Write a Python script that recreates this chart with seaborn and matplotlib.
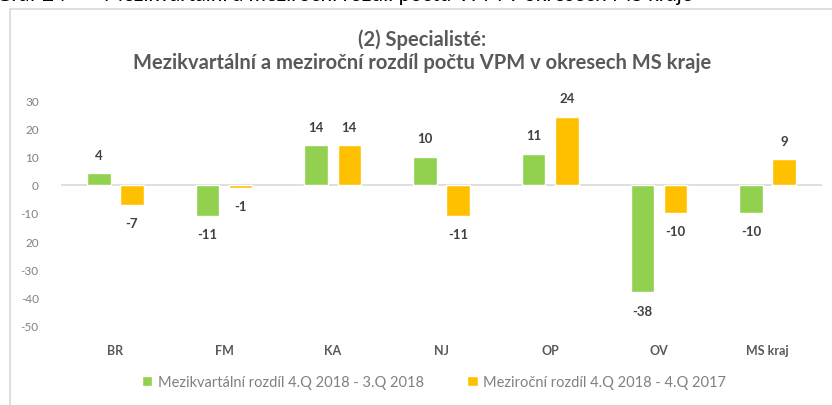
import matplotlib
matplotlib.use("Agg")
import matplotlib.pyplot as plt
import seaborn as sns
import pandas as pd
from matplotlib.patches import Rectangle

categories = ["BR", "FM", "KA", "NJ", "OP", "OV", "MS kraj"]
series_names = ["Mezikvartální rozdíl 4.Q 2018 - 3.Q 2018",
                "Meziroční rozdíl 4.Q 2018 - 4.Q 2017"]
qoq = [4, -11, 14, 10, 11, -38, -10]
yoy = [-7, -1, 14, -11, 24, -10, 9]
yticks = [30, 20, 10, 0, -10, -20, -30, -40, -50]
ytick_labels = ["30", "20", "10", "0", "-10", "20", "-30", "-40", "-50"]
colors = ["#92D050", "#FFC000"]

sns.set_theme(style="white")
plt.rcParams["font.family"] = ["Lato", "DejaVu Sans"]

df = pd.DataFrame({
    "okres": categories * 2,
    "hodnota": qoq + yoy,
    "serie": [series_names[0]] * len(categories) + [series_names[1]] * len(categories),
})

fig = plt.figure(figsize=(8.32, 4.06), dpi=100)
ax = fig.add_axes([61 / 832, 1 - 327 / 406, 761 / 832, 226 / 406])

sns.barplot(data=df, x="okres", y="hodnota", hue="serie", order=categories,
            hue_order=series_names, palette=colors, width=0.61, gap=0.29,
            saturation=1, ax=ax, legend=True)

ax.set_ylim(-50, 30)
ax.set_xlim(-0.5, len(categories) - 0.5)
ax.set_yticks(yticks)
ax.set_yticklabels(ytick_labels, color="#808080", fontsize=8.5)
ax.tick_params(axis="y", length=0, pad=16)
ax.tick_params(axis="x", length=0, pad=13)
for lbl in ax.get_xticklabels():
    lbl.set_fontweight("bold")
    lbl.set_color("#595959")
    lbl.set_fontsize(9)
ax.set_xlabel("")
ax.set_ylabel("")
for s in ax.spines.values():
    s.set_visible(False)
ax.axhline(0, color="#D9D9D9", lw=1.2, zorder=0)

for cont in ax.containers:
    for bar in cont:
        h = bar.get_height()
        xc = bar.get_x() + bar.get_width() / 2
        if h >= 0:
            ax.annotate(f"{int(round(h))}", (xc, h), xytext=(0, 9),
                        textcoords="offset points", ha="center", va="bottom",
                        fontsize=9.5, fontweight="bold", color="#404040")
        else:
            ax.annotate(f"{int(round(h))}", (xc, h), xytext=(0, -9),
                        textcoords="offset points", ha="center", va="top",
                        fontsize=9.5, fontweight="bold", color="#404040")

handles, labels = ax.get_legend_handles_labels()
ax.legend_.remove()
fig.legend(handles, labels, loc="center", bbox_to_anchor=(434 / 832, 1 - 383 / 406),
           ncol=2, frameon=False, fontsize=10.5, handlelength=0.7, handleheight=0.7,
           columnspacing=3.0, handletextpad=0.4, labelcolor="#808080")

fig.text(422 / 832, 1 - 40 / 406, "(2) Specialisté:", ha="center", va="center",
         fontsize=14.5, fontweight="bold", color="#595959")
fig.text(422 / 832, 1 - 63 / 406,
         "Mezikvartální a meziroční rozdíl počtu VPM v okresech MS kraje",
         ha="center", va="center", fontsize=14.5, fontweight="bold", color="#595959")

fig.text(-4 / 832, 1 - 5 / 406,
         "Graf 24       Mezikvartální a meziroční rozdíl počtu VPM v okresech MS kraje",
         ha="left", va="bottom", fontsize=15, color="#000000")

fig.patches.append(Rectangle((10 / 832, -0.1), 1.1, 1 - 10 / 406 + 0.1,
                             transform=fig.transFigure, fill=False,
                             edgecolor="#D9D9D9", lw=1.2))

fig.savefig("out.png", dpi=100)
